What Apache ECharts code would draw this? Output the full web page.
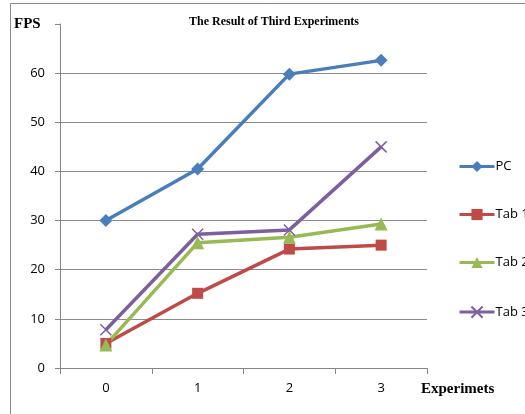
<!DOCTYPE html>
<html>
<head>
<meta charset="utf-8">
<script src="https://cdn.jsdelivr.net/npm/echarts@6/dist/echarts.min.js"></script>
<style>html,body{margin:0;padding:0;background:#fff}#c{width:525px;height:414px}</style>
</head>
<body>
<div id="c"></div>
<script>
const categories = ['0', '1', '2', '3'];
const pcValues = [30, 40.5, 59.8, 62.6];
const tab1Values = [5, 15.2, 24.2, 25];
const tab2Values = [4.7, 25.5, 26.6, 29.3];
const tab3Values = [7.8, 27.2, 28.1, 45];
const seriesNames = ['PC', 'Tab 1', 'Tab 2', 'Tab 3'];

const chart = echarts.init(document.getElementById('c'), null, {renderer: 'canvas'});
const xPath = 'path://M0,0L10,10M10,0L0,10';
function mk(name, data, color, symbol, size, extra) {
  return Object.assign({
    name: name, type: 'line', data: data, symbol: symbol, symbolSize: size,
    lineStyle: {color: color, width: 3.5},
    itemStyle: {color: color},
    z: 3, animation: false
  }, extra || {});
}
chart.setOption({
  animation: false,
  title: {
    text: 'The Result of Third Experiments', left: 269, top: 11, textAlign: 'center',
    textStyle: {fontFamily: 'Liberation Serif', fontWeight: 'bold', fontSize: 12, color: '#000'}
  },
  graphic: [
    {type: 'rect', shape: {x: 10.5, y: 3.5, width: 530, height: 430}, style: {fill: 'none', stroke: '#8a8a8a', lineWidth: 1}},
    {type: 'text', left: 14, top: 17, style: {text: 'FPS', font: 'bold 15px "Liberation Serif"', fill: '#000'}},
    {type: 'text', left: 421, top: 382, style: {text: 'Experimets', font: 'bold 15px "Liberation Serif"', fill: '#000'}}
  ],
  legend: {
    data: seriesNames, orient: 'vertical', left: 453, top: 155, itemGap: 35,
    itemWidth: 35, itemHeight: 14,
    lineStyle: {width: 3},
    textStyle: {fontFamily: 'Open Sans', fontSize: 13, color: '#000', padding: [0, 0, 0, -4]}
  },
  grid: {left: 60, right: 98, top: 24, bottom: 46},
  xAxis: {
    type: 'category', data: categories, boundaryGap: true,
    axisLine: {lineStyle: {color: '#868686', width: 1}},
    axisTick: {show: true, length: 6, lineStyle: {color: '#868686'}},
    axisLabel: {fontFamily: 'Open Sans', fontSize: 13, color: '#000', margin: 14}
  },
  yAxis: {
    type: 'value', min: 0, max: 70, interval: 10,
    axisLine: {show: true, lineStyle: {color: '#868686', width: 1}},
    axisTick: {show: true, length: 5, lineStyle: {color: '#868686'}},
    axisLabel: {fontFamily: 'Open Sans', fontSize: 13, color: '#000', margin: 15,
      formatter: function (v) { return v === 70 ? '' : v; }},
    splitLine: {show: true, showMaxLine: false, lineStyle: {color: '#8c8c8c', width: 1}}
  },
  series: [
    mk('PC', pcValues, '#4a7ebb', 'diamond', 13),
    mk('Tab 1', tab1Values, '#be4b48', 'rect', 11),
    mk('Tab 2', tab2Values, '#98b954', 'triangle', 13),
    mk('Tab 3', tab3Values, '#7d5fa0', xPath, 11, {itemStyle: {color: 'none', borderColor: '#7d5fa0', borderWidth: 1.5}})
  ]
});
</script>
</body>
</html>
